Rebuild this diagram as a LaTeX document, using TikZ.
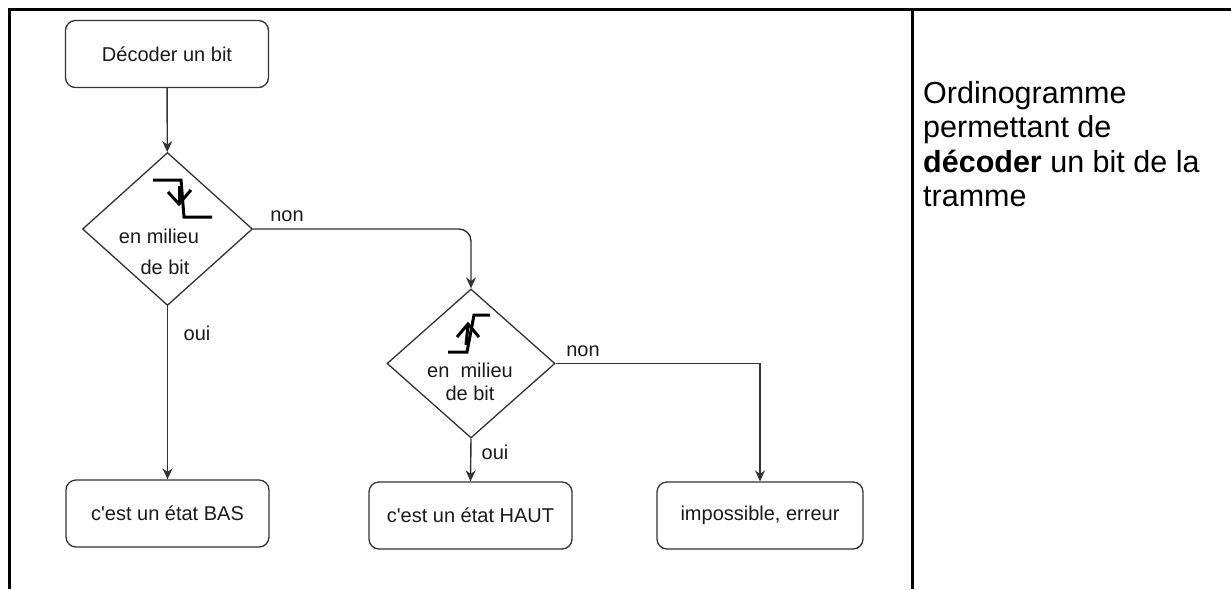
\documentclass[tikz,border=0pt]{standalone}
\usepackage{fontspec}
\setmainfont{Liberation Sans}
\usetikzlibrary{shapes.geometric,arrows.meta}
\definecolor{ln}{HTML}{333333}
\definecolor{tx}{HTML}{1A1A1A}
\tikzset{
  px/.style={x=1pt,y=-1pt},
  stepbox/.style={draw=ln,line width=1.3pt,rounded corners=10pt,inner sep=0pt,
    minimum width=203pt,minimum height=67pt,font=\fontsize{20}{24}\selectfont,text=tx},
  decis/.style={draw=ln,line width=1.3pt,diamond,inner sep=0pt,aspect=1},
  lbl/.style={font=\fontsize{20}{24}\selectfont,text=tx,inner sep=0pt},
  conn/.style={draw=ln,line width=1.4pt,-{Stealth[length=11pt,width=10pt]}},
  frame/.style={line width=3pt,black},
  edge sym/.style={line width=3pt,black},
}
\begin{document}
\begin{tikzpicture}[px]
\useasboundingbox (0,0) rectangle (1231,589);
\fill[white] (0,0) rectangle (1231,589);
% frame
\draw[frame] (8,9.5) -- (1231,9.5);
\draw[frame] (9.5,8) -- (9.5,589);
\draw[frame] (912,8) -- (912,589);

% nodes
\node[stepbox] (start) at (167,54) {Décoder un bit};
\node[decis,minimum width=170pt,minimum height=153pt] (d1) at (167.5,229) {};
\node[decis,minimum width=168pt,minimum height=149pt] (d2) at (471,363.5) {};
\node[stepbox] (bas) at (167.5,513.5) {c\textquotesingle est un état BAS};
\node[stepbox] (haut) at (470.5,515.5) {c\textquotesingle est un état HAUT};
\node[stepbox,minimum width=206pt] (err) at (760,515.5) {impossible, erreur};

% diamond texts
\node[lbl] (d1a) at (159,236) {en milieu};
\node[lbl] (d1b) at (165,267) {de bit};
\node[lbl] (d2a) at (470,370) {en\ \ milieu};
\node[lbl] (d2b) at (470,393) {de bit};

% falling edge symbol
\draw[edge sym] (153,180) -- (181,180) -- (184,217) -- (212,217);
\draw[edge sym] (179,186) -- (179,203);
\draw[edge sym] (168,192) -- (179,204) -- (191,190);
% rising edge symbol
\draw[edge sym] (448,352) -- (467,352) -- (474,315) -- (490,315);
\draw[edge sym] (466,345) -- (468,325);
\draw[edge sym] (457,337) -- (468,324) -- (479,337);

% connectors
\coordinate (c1) at (d2.north |- d1.east);
\coordinate (c2) at (err.north |- d2.east);
\draw[conn] (start) -- (d1);
\draw[conn] (d1.south) -- (bas.north);
\draw[conn,rounded corners=12pt] (d1.east) -- (c1) -- (d2.north);
\draw[conn] (d2.south) -- (haut.north);
\draw[conn] (d2.east) -- (c2) -- (err.north);

% edge labels
\node[lbl] (l1) at (287,216) {non};
\node[lbl] (l2) at (197,333) {oui};
\node[lbl] (l3) at (583,351) {non};
\node[lbl] (l4) at (495,452) {oui};

% side text
\node[anchor=base west,align=left,inner sep=0pt,text=black,
  font=\fontsize{30.5}{34.5}\selectfont] (side) at (923,206.5)
  {Ordinogramme\\permettant de\\\textbf{décoder} un bit de la\\tramme};
\end{tikzpicture}
\end{document}
